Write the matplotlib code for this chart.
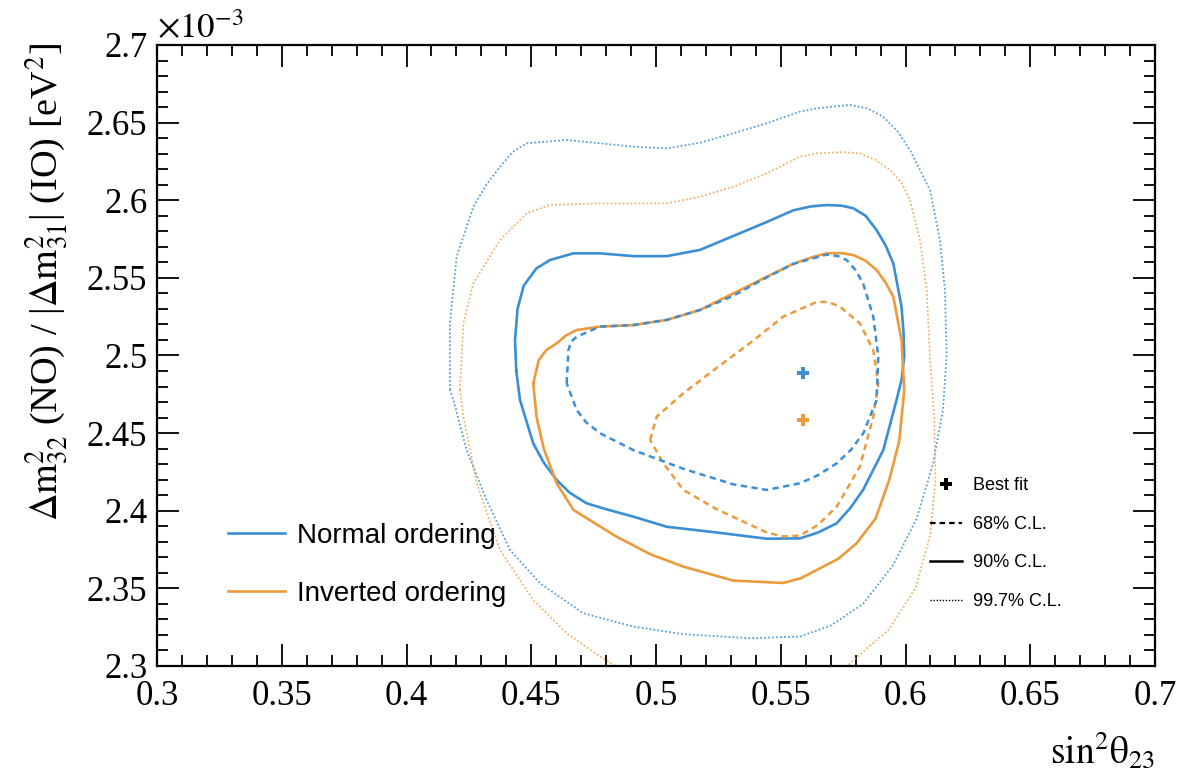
import numpy as np
import matplotlib
matplotlib.use('Agg')
import matplotlib.pyplot as plt
import matplotlib.ticker as mticker
from matplotlib.lines import Line2D

plt.rcParams['font.family'] = ['Liberation Serif', 'DejaVu Serif']
plt.rcParams['mathtext.fontset'] = 'stix'

blue = '#3a8fd5'
orange = '#ec9a3c'

# contours: sin^2(theta23) and dm^2 in units of 1e-3 eV^2
no_90_x = [0.4440, 0.4435, 0.4445, 0.4470, 0.4520, 0.4575, 0.4669, 0.4776, 0.4909, 0.5043,
           0.5176, 0.5310, 0.5444, 0.5550, 0.5620, 0.5684, 0.5745, 0.5791, 0.5840, 0.5884,
           0.5920, 0.5951, 0.5984, 0.5992, 0.5995, 0.5985, 0.5964, 0.5911, 0.5830, 0.5780,
           0.5724, 0.5650, 0.5577, 0.5444, 0.5243, 0.5043, 0.4909, 0.4800, 0.4722, 0.4655,
           0.4602, 0.4550, 0.4508, 0.4455]
no_90_y = [2.490, 2.510, 2.530, 2.545, 2.556, 2.5615, 2.5658, 2.5658, 2.564, 2.564,
           2.568, 2.577, 2.586, 2.5935, 2.596, 2.5969, 2.5965, 2.5948, 2.590, 2.5808,
           2.571, 2.5594, 2.5315, 2.515, 2.500, 2.485, 2.4713, 2.4391, 2.4134, 2.402,
           2.3919, 2.386, 2.3822, 2.382, 2.386, 2.3897, 2.3962, 2.401, 2.4048, 2.4115,
           2.4198, 2.431, 2.4434, 2.4713]

io_90_x = [0.4508, 0.4530, 0.4560, 0.4602, 0.4640, 0.4682, 0.4776, 0.4909, 0.5043, 0.5176,
           0.5310, 0.5444, 0.5550, 0.5620, 0.5684, 0.5740, 0.5791, 0.5840, 0.5884, 0.5920,
           0.5951, 0.5984, 0.5995, 0.5975, 0.5935, 0.5880, 0.5804, 0.5730, 0.5644, 0.5580,
           0.5510, 0.5310, 0.5110, 0.4977, 0.4842, 0.4669, 0.4602, 0.4550, 0.4521]
io_90_y = [2.4821, 2.497, 2.5035, 2.5078, 2.513, 2.5164, 2.5186, 2.5196, 2.5229, 2.5293,
           2.540, 2.5507, 2.559, 2.563, 2.5658, 2.566, 2.5647, 2.561, 2.5551, 2.547,
           2.5379, 2.510, 2.4778, 2.445, 2.420, 2.395, 2.379, 2.369, 2.3618, 2.3565,
           2.3535, 2.355, 2.364, 2.372, 2.3833, 2.4005, 2.4177, 2.440, 2.4606]

no_68_x = [0.4642, 0.4649, 0.4660, 0.4682, 0.4776, 0.4909, 0.5043, 0.5176, 0.5310, 0.5440,
           0.5550, 0.5684, 0.5730, 0.5764, 0.5800, 0.5830, 0.5871, 0.5891, 0.5884, 0.5831,
           0.5780, 0.5724, 0.5650, 0.5577, 0.5444, 0.5310, 0.5110, 0.4909, 0.4776, 0.4720,
           0.4682]
no_68_y = [2.4821, 2.5035, 2.509, 2.5121, 2.5186, 2.5196, 2.5229, 2.5293, 2.5385, 2.550,
           2.559, 2.565, 2.564, 2.5615, 2.555, 2.5465, 2.525, 2.4992, 2.4713, 2.4499,
           2.439, 2.4305, 2.423, 2.4177, 2.4134, 2.417, 2.427, 2.4391, 2.4499, 2.457,
           2.4649]

io_68_x = [0.4976, 0.5003, 0.5110, 0.5243, 0.5377, 0.5510, 0.5644, 0.5690, 0.5737, 0.5817,
           0.5871, 0.5891, 0.5871, 0.5817, 0.5724, 0.5650, 0.5577, 0.5510, 0.5444, 0.5243,
           0.5110, 0.5030]
io_68_y = [2.4456, 2.4606, 2.4757, 2.492, 2.508, 2.525, 2.5345, 2.5345, 2.5315, 2.5207,
           2.5035, 2.4821, 2.4606, 2.4284, 2.4026, 2.391, 2.384, 2.3835, 2.386, 2.401,
           2.4134, 2.4305]

no_997_x = [0.4174, 0.4174, 0.4201, 0.4268, 0.4320, 0.4375, 0.4425, 0.4482, 0.4642, 0.4776,
            0.4909, 0.5043, 0.5176, 0.5310, 0.5444, 0.5577, 0.5644, 0.5777, 0.5850, 0.5911,
            0.5970, 0.6018, 0.6098, 0.6138, 0.6158, 0.6165, 0.6150, 0.6110, 0.6045, 0.5950,
            0.5830, 0.5700, 0.5577, 0.5377, 0.5110, 0.4909, 0.4708, 0.4535, 0.4415, 0.4321,
            0.4241, 0.4188]
no_997_y = [2.4778, 2.5207, 2.5637, 2.5958, 2.610, 2.6216, 2.631, 2.6367, 2.6388, 2.6367,
            2.6345, 2.6334, 2.637, 2.6431, 2.6496, 2.6571, 2.6592, 2.6614, 2.659, 2.6538,
            2.644, 2.6324, 2.6066, 2.5744, 2.5422, 2.500, 2.465, 2.430, 2.395, 2.365,
            2.340, 2.326, 2.319, 2.3179, 2.3205, 2.3254, 2.334, 2.3533, 2.3747, 2.4069,
            2.4391, 2.4713]

io_997_x = [0.4214, 0.4228, 0.4268, 0.4375, 0.4482, 0.4575, 0.4776, 0.5043, 0.5176, 0.5310,
            0.5444, 0.5577, 0.5644, 0.5750, 0.5817, 0.5880, 0.5938, 0.5985, 0.6018, 0.6058,
            0.6085, 0.6098, 0.6115, 0.6120, 0.6100, 0.6040, 0.5930, 0.5800, 0.5700, 0.5300,
            0.4900, 0.4842, 0.4776, 0.4642, 0.4508, 0.4375, 0.4281, 0.4228]
io_997_y = [2.4778, 2.5207, 2.5465, 2.5744, 2.5916, 2.597, 2.598, 2.598, 2.6023, 2.6087,
            2.6173, 2.6281, 2.6302, 2.631, 2.6302, 2.626, 2.6195, 2.611, 2.6002, 2.5744,
            2.5422, 2.4992, 2.460, 2.420, 2.385, 2.350, 2.323, 2.305, 2.290, 2.270,
            2.285, 2.2996, 2.3061, 2.3211, 2.3425, 2.3747, 2.4177, 2.4606]

best_x = [0.559, 0.559]
best_y = [2.4885, 2.4585]


def closed(x, y):
    return np.append(x, x[0]), np.append(y, y[0])


fig = plt.figure(figsize=(12.02, 7.76), dpi=100)
ax = fig.add_axes([157 / 1202, 1 - 666 / 776, 998 / 1202, 621 / 776])

dot = (0, (1, 1.2))
dash = (0, (2.5, 1.8))
ax.plot(*closed(no_997_x, no_997_y), color=blue, lw=1.3, ls=dot, alpha=0.85)
ax.plot(*closed(io_997_x, io_997_y), color=orange, lw=1.3, ls=dot, alpha=0.75)
ax.plot(*closed(no_90_x, no_90_y), color=blue, lw=1.9, solid_joinstyle='round')
ax.plot(*closed(io_90_x, io_90_y), color=orange, lw=1.9, solid_joinstyle='round')
ax.plot(*closed(io_68_x, io_68_y), color=orange, lw=1.8, ls=dash)
ax.plot(*closed(no_68_x, no_68_y), color=blue, lw=1.8, ls=dash)
ax.plot(best_x[0], best_y[0], marker='P', ms=9, color=blue, mew=0)
ax.plot(best_x[1], best_y[1], marker='P', ms=9, color=orange, mew=0)

ax.set_xlim(0.3, 0.7)
ax.set_ylim(2.3, 2.7)
ax.xaxis.set_major_locator(mticker.MultipleLocator(0.05))
ax.xaxis.set_minor_locator(mticker.MultipleLocator(0.01))
ax.yaxis.set_major_locator(mticker.MultipleLocator(0.05))
ax.yaxis.set_minor_locator(mticker.MultipleLocator(0.01))
ax.xaxis.set_major_formatter(mticker.FormatStrFormatter('%g'))
ax.yaxis.set_major_formatter(mticker.FormatStrFormatter('%g'))
ax.tick_params(which='both', direction='in', top=True, right=True, width=1.3, labelsize=25)
ax.tick_params(which='major', length=16)
ax.tick_params(which='minor', length=8)
ax.tick_params(axis='x', pad=10)
ax.tick_params(axis='y', pad=7)
for s in ax.spines.values():
    s.set_linewidth(1.6)

fig.text(157 / 1202, 1 - 38 / 776, r'$\times10^{-3}$', fontsize=25, ha='left', va='baseline')
fig.text(1155 / 1202, 1 - 763 / 776, r'$\mathrm{sin}^{2}\mathrm{\theta}_{23}$', fontsize=27,
         ha='right', va='baseline')
fig.text(47 / 1202, 1 - 43 / 776,
         r'$\Delta\mathrm{m}^{2}_{32}$ (NO) / |$\Delta\mathrm{m}^{2}_{31}$| (IO) [eV$^{2}$]',
         fontsize=27.5, rotation=90, ha='center', va='top')

sans = {'family': 'Liberation Sans', 'size': 20}
h1 = [Line2D([], [], color=blue, lw=1.9), Line2D([], [], color=orange, lw=1.9)]
leg1 = ax.legend(h1, ['Normal ordering', 'Inverted ordering'], prop=sans, frameon=False,
                 loc='center left', bbox_to_anchor=(0.0711, 0.163), borderpad=0,
                 borderaxespad=0, handlelength=2.05, handletextpad=0.45, labelspacing=1.15)
ax.add_artist(leg1)

sans2 = {'family': 'Liberation Sans', 'size': 13}
h2 = [Line2D([], [], color='black', marker='P', ms=8, mew=0, ls='none'),
      Line2D([], [], color='black', lw=1.6, ls=(0, (2.5, 1.8))),
      Line2D([], [], color='black', lw=1.8),
      Line2D([], [], color='black', lw=1.0, ls=(0, (1, 1.2)))]
ax.legend(h2, ['Best fit', '68% C.L.', '90% C.L.', '99.7% C.L.'], prop=sans2, frameon=False,
          loc='center left', bbox_to_anchor=(0.7745, 0.197), borderpad=0, borderaxespad=0,
          handlelength=1.8, handletextpad=0.6, labelspacing=1.2)

fig.savefig('out.png', dpi=100)
